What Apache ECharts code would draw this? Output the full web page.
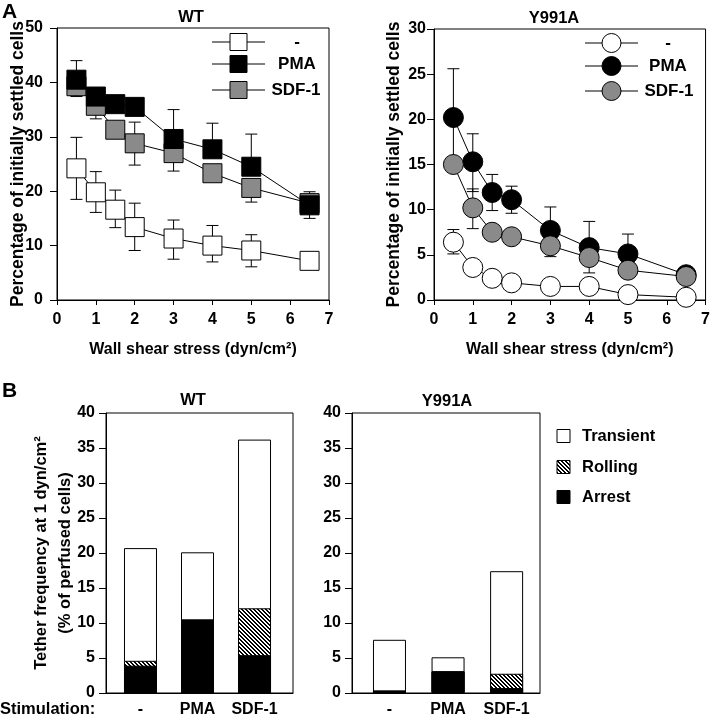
<!DOCTYPE html>
<html>
<head>
<meta charset="utf-8">
<script src="https://cdn.jsdelivr.net/npm/echarts@6/dist/echarts.min.js"></script>
<style>
html, body { margin: 0; padding: 0; background: #fff; }
#chart { width: 713px; height: 720px; }
</style>
</head>
<body>
<div id="chart"></div>
<script>
// wall shear stress (dyn/cm2)
var shear = [0.5, 1, 1.5, 2, 3, 4, 5, 6.5];

// A, WT : percentage of initially settled cells
var wtNone   = [24.2, 19.8, 16.6, 13.4, 11.3, 10.0, 9.1, 7.2];
var wtNoneHi = [29.9, 23.6, 20.2, 17.8, 14.7, 13.7, 12.0, null];
var wtNoneLo = [18.5, 16.1, 13.3, 9.1, 7.5, 7.0, 6.1, null];
var wtPma    = [40.5, 37.4, 36.0, 35.5, 29.6, 27.7, 24.5, 17.4];
var wtPmaHi  = [44.0, null, null, null, 35.0, 32.5, 30.5, 19.9];
var wtPmaLo  = [null, 35.0, null, null, null, null, null, 15.0];
var wtSdf    = [39.3, 35.7, 31.3, 28.8, 27.0, 23.3, 20.6, 17.8];
var wtSdfHi  = [null, null, null, 32.7, null, null, null, null];
var wtSdfLo  = [37.4, 33.3, null, 24.8, 23.7, null, 18.0, null];

// A, Y991A
var yNone    = [6.4, 3.6, 2.4, 1.9, 1.5, 1.5, 0.6, 0.3];
var yNoneHi  = [7.8, null, null, null, null, null, null, null];
var yNoneLo  = [5.1, null, null, null, null, null, null, null];
var yPma     = [20.2, 15.3, 11.9, 11.1, 7.7, 5.8, 5.1, 2.8];
var yPmaHi   = [25.6, 18.4, 13.9, 12.6, 10.3, 8.7, 7.3, null];
var yPmaLo   = [15.2, 12.0, 9.9, 9.6, null, null, null, null];
var ySdf     = [15.0, 10.2, 7.5, 7.0, 6.0, 4.7, 3.3, 2.6];
var ySdfHi   = [null, 12.3, null, null, null, null, null, null];
var ySdfLo   = [null, 7.9, null, null, 4.8, 3.0, null, null];

// B : tether frequency at 1 dyn/cm2 (% of perfused cells), parts of each bar
var stims = ['-', 'PMA', 'SDF-1'];
var wtArrest     = [3.9, 10.5, 5.4];
var wtRolling    = [0.7, 0, 6.7];
var wtTransient  = [16.1, 9.6, 24.1];
var yArrest      = [0.35, 3.1, 0.7];
var yRolling     = [0, 0, 2.05];
var yTransient   = [7.25, 2.0, 14.65];

var FONT = 'Liberation Sans, Arial, Helvetica, sans-serif';

// hatch for "Rolling"
var hatch = document.createElement('canvas');
hatch.width = 4; hatch.height = 4;
var hc = hatch.getContext('2d');
hc.fillStyle = '#fff'; hc.fillRect(0, 0, 4, 4);
hc.fillStyle = '#000';
for (var k = 0; k < 4; k++) { hc.fillRect(k, k, 1, 1); hc.fillRect((k + 1) % 4, k, 1, 1); }
var hatchFill = { image: hatch, repeat: 'repeat' };

function pts(vals) {
  return shear.map(function (x, i) { return [x, vals[i]]; });
}

// running totals so the three parts can be drawn on top of each other
function tops(parts, upto) {
  return parts[0].map(function (_, i) {
    var s = 0;
    for (var p = 0; p <= upto; p++) s += parts[p][i];
    return s;
  });
}

function errorBars(hi, lo) {
  return function (params, api) {
    var i = params.dataIndex;
    var x = api.value(0), y = api.value(1);
    var p = api.coord([x, y]);
    var kids = [];
    [hi[i], lo[i]].forEach(function (e) {
      if (e == null) return;
      var q = api.coord([x, e]);
      kids.push({ type: 'line', shape: { x1: p[0], y1: p[1], x2: q[0], y2: q[1] }, style: { stroke: '#000', lineWidth: 1 } });
      kids.push({ type: 'line', shape: { x1: q[0] - 6, y1: q[1], x2: q[0] + 6, y2: q[1] }, style: { stroke: '#000', lineWidth: 1 } });
    });
    return { type: 'group', children: kids };
  };
}

function errSeries(idx, vals, hi, lo) {
  return {
    type: 'custom', xAxisIndex: idx, yAxisIndex: idx, z: 1,
    data: pts(vals), renderItem: errorBars(hi, lo), silent: true
  };
}

function lineSeries(idx, name, vals, symbol, fill, size) {
  return {
    type: 'line', name: name, xAxisIndex: idx, yAxisIndex: idx, z: 3,
    data: pts(vals), symbol: symbol, symbolSize: size, showAllSymbol: true,
    lineStyle: { color: '#000', width: 1 },
    itemStyle: { color: fill, borderColor: '#000', borderWidth: 1 }
  };
}

function barSeries(idx, name, vals, fill) {
  return {
    type: 'bar', name: name, xAxisIndex: idx, yAxisIndex: idx,
    barWidth: 33, barGap: '-100%',
    data: vals.map(function (v, i) { return [i, v]; }),
    itemStyle: { color: fill, borderColor: '#000', borderWidth: 1 }
  };
}

function barGroup(idx, arrest, rolling, transient) {
  var parts = [arrest, rolling, transient];
  return [
    barSeries(idx, 'Transient', tops(parts, 2), '#fff'),
    barSeries(idx, 'Rolling', tops(parts, 1), hatchFill),
    barSeries(idx, 'Arrest', tops(parts, 0), '#000')
  ];
}

var tickLabel = { color: '#000', fontSize: 16, fontWeight: 'bold', fontFamily: FONT };
var axisLine = { onZero: false, lineStyle: { color: '#000', width: 1 } };

function shearX(idx) {
  return {
    gridIndex: idx, type: 'value', min: 0, max: 7, interval: 1,
    axisLine: axisLine, axisTick: { length: 5, lineStyle: { color: '#000' } },
    axisLabel: Object.assign({ margin: 12 }, tickLabel), splitLine: { show: false },
    name: 'Wall shear stress (dyn/cm²)', nameLocation: 'middle', nameGap: 42,
    nameTextStyle: { fontSize: 16, fontWeight: 'bold', fontFamily: FONT, color: '#000' }
  };
}

function pctY(idx, max, step, margin, gap) {
  return {
    gridIndex: idx, type: 'value', min: 0, max: max, interval: step,
    axisLine: axisLine, axisTick: { length: 7, lineStyle: { color: '#000' } },
    axisLabel: Object.assign({ margin: margin }, tickLabel), splitLine: { show: false },
    name: 'Percentage of initially settled cells', nameLocation: 'middle',
    nameGap: gap, nameMoveOverlap: false,
    nameTextStyle: { fontSize: 17.5, fontWeight: 'bold', fontFamily: FONT, color: '#000' }
  };
}

function stimX(idx, min, max) {
  return {
    gridIndex: idx, type: 'value', min: min, max: max,
    axisLine: axisLine, axisTick: { show: false }, splitLine: { show: false },
    axisLabel: Object.assign({
      margin: 9, customValues: [0, 1, 2],
      formatter: function (v) { return stims[Math.round(v)]; }
    }, tickLabel)
  };
}

function tetherY(idx, withName) {
  var ax = {
    gridIndex: idx, type: 'value', min: 0, max: 40, interval: 5,
    axisLine: axisLine, axisTick: { length: 7, lineStyle: { color: '#000' } },
    axisLabel: Object.assign({ margin: 11 }, tickLabel), splitLine: { show: false }
  };
  if (withName) {
    ax.name = 'Tether frequency at 1 dyn/cm²\n(% of perfused cells)';
    ax.nameLocation = 'middle';
    ax.nameGap = 29;
    ax.nameMoveOverlap = false;
    ax.nameTextStyle = { fontSize: 16.5, fontWeight: 'bold', fontFamily: FONT, color: '#000', lineHeight: 24 };
  }
  return ax;
}

function txt(x, y, s, size, align) {
  return { type: 'text', x: x, y: y, style: {
    text: s, fontSize: size || 16, fontWeight: 'bold', fontFamily: FONT, fill: '#000',
    align: align || 'center', verticalAlign: 'middle'
  } };
}

function legendRow(x1, x2, y, shape, fill, size) {
  var cx = (x1 + x2) / 2;
  var mark = shape === 'rect'
    ? { type: 'rect', shape: { x: cx - size / 2, y: y - size / 2, width: size, height: size } }
    : { type: 'circle', shape: { cx: cx, cy: y, r: size / 2 } };
  mark.style = { fill: fill, stroke: '#000', lineWidth: 1 };
  return [
    { type: 'line', shape: { x1: x1, y1: y, x2: x2, y2: y }, style: { stroke: '#000', lineWidth: 1 } },
    mark
  ];
}

function boxKey(x, y, fill, label) {
  return [
    { type: 'rect', shape: { x: x, y: y - 6.5, width: 13, height: 13 }, style: { fill: fill, stroke: '#000', lineWidth: 1 } },
    txt(x + 25, y, label, 16.5, 'left')
  ];
}

var graphics = [
  txt(2, 12, 'A', 21, 'left'),
  txt(2, 391, 'B', 21, 'left'),
  txt(191, 17, 'WT', 16.5),
  txt(554, 18, 'Y991A', 16.5),
  txt(193, 400, 'WT', 16.5),
  txt(447, 401, 'Y991A', 16.5),
  txt(0, 709, 'Stimulation:', 16.5, 'left'),
  txt(297, 42, '-', 17), txt(297, 64, 'PMA', 17), txt(296, 90, 'SDF-1', 17),
  txt(668, 43, '-', 17), txt(668, 66, 'PMA', 17), txt(669, 91, 'SDF-1', 17)
]
  .concat(legendRow(212, 265, 42, 'rect', '#fff', 17))
  .concat(legendRow(212, 265, 64, 'rect', '#000', 17))
  .concat(legendRow(212, 265, 90, 'rect', '#8a8a8a', 17))
  .concat(legendRow(585, 638, 43, 'circle', '#fff', 19))
  .concat(legendRow(585, 638, 66, 'circle', '#000', 19))
  .concat(legendRow(585, 638, 91, 'circle', '#8a8a8a', 19))
  .concat(boxKey(557, 436, '#fff', 'Transient'))
  .concat(boxKey(557, 467, hatchFill, 'Rolling'))
  .concat(boxKey(557, 497, '#000', 'Arrest'));

var gridBox = { show: true, borderColor: '#000', borderWidth: 1, backgroundColor: 'transparent' };

var option = {
  animation: false,
  backgroundColor: '#fff',
  grid: [
    Object.assign({ left: 57, top: 28, width: 272, height: 272 }, gridBox),
    Object.assign({ left: 434, top: 29, width: 273, height: 271 }, gridBox),
    Object.assign({ left: 106, top: 413, width: 187, height: 280 }, gridBox),
    Object.assign({ left: 352, top: 413, width: 188, height: 280 }, gridBox)
  ],
  xAxis: [shearX(0), shearX(1), stimX(2, -0.605, 2.675), stimX(3, -0.64, 2.57)],
  yAxis: [pctY(0, 50, 10, 14, 30), pctY(1, 30, 5, 8, 31), tetherY(2, true), tetherY(3, false)],
  graphic: graphics,
  series: [
    errSeries(0, wtNone, wtNoneHi, wtNoneLo),
    errSeries(0, wtSdf, wtSdfHi, wtSdfLo),
    errSeries(0, wtPma, wtPmaHi, wtPmaLo),
    lineSeries(0, '-', wtNone, 'rect', '#fff', 19),
    lineSeries(0, 'SDF-1', wtSdf, 'rect', '#8a8a8a', 19),
    lineSeries(0, 'PMA', wtPma, 'rect', '#000', 19),

    errSeries(1, yNone, yNoneHi, yNoneLo),
    errSeries(1, yPma, yPmaHi, yPmaLo),
    errSeries(1, ySdf, ySdfHi, ySdfLo),
    lineSeries(1, '-', yNone, 'circle', '#fff', 20),
    lineSeries(1, 'PMA', yPma, 'circle', '#000', 20),
    lineSeries(1, 'SDF-1', ySdf, 'circle', '#8a8a8a', 20)
  ]
    .concat(barGroup(2, wtArrest, wtRolling, wtTransient))
    .concat(barGroup(3, yArrest, yRolling, yTransient))
};

var chart = echarts.init(document.getElementById('chart'), null, { renderer: 'canvas' });
chart.setOption(option);
</script>
</body>
</html>
